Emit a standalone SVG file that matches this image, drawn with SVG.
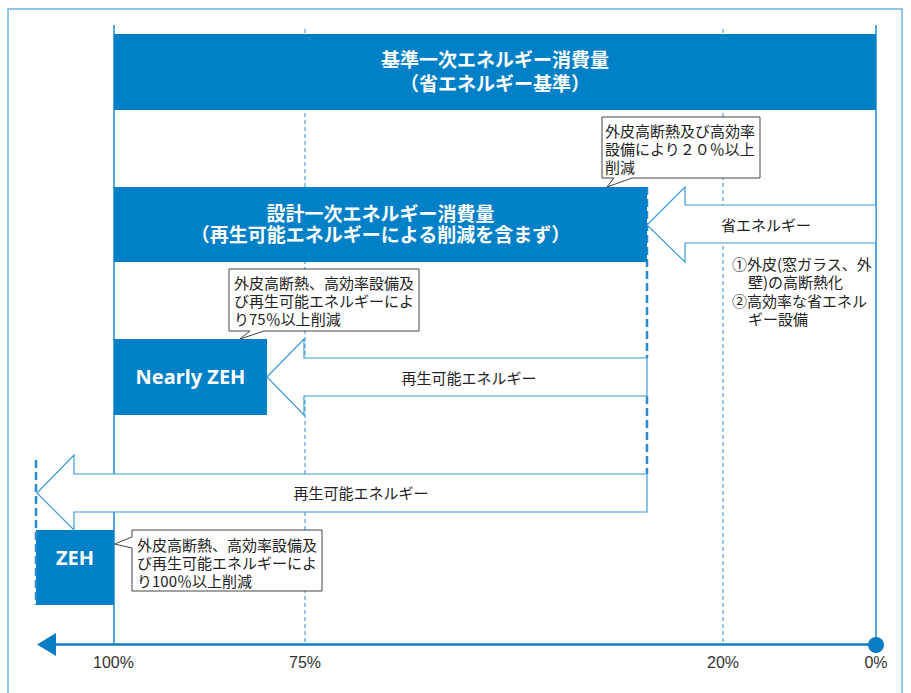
<svg xmlns="http://www.w3.org/2000/svg" width="911" height="693" viewBox="0 0 911 693">
<style>
.jp{font-family:"Noto Sans CJK JP","Noto Sans",sans-serif}
.wt{fill:#ffffff;font-weight:bold;font-size:19px;text-anchor:middle}
.lat{font-family:"Noto Sans","Liberation Sans",sans-serif;fill:#ffffff;font-weight:bold;font-size:20px;text-anchor:middle}
.bk{fill:#222222;font-size:15px}
.bar{fill:#0080c6}
.vline{stroke:#1f86cc;stroke-width:1.5;fill:none}
.thin{stroke:#2a8ad0;stroke-width:1;stroke-dasharray:4 3;fill:none}
.thick{stroke:#2a8ad0;stroke-width:2.5;stroke-dasharray:8 4;fill:none}
.arrow{fill:#ffffff;stroke:#3d9ad8;stroke-width:1.2;stroke-linejoin:miter}
.call{fill:#ffffff;stroke:#444444;stroke-width:1}
.ax{font-family:"Liberation Sans",Arial,sans-serif;font-size:16px;fill:#333333;text-anchor:middle}
</style>
<rect x="8" y="9" width="894" height="700" fill="#ffffff" stroke="#6cb4e4" stroke-width="1.5"/>

<g id="connectors">
  <line class="vline" x1="114" y1="25" x2="114" y2="644"/>
  <line class="vline" x1="876" y1="25" x2="876" y2="645"/>
  <line class="thin" x1="305" y1="29" x2="305" y2="644"/>
  <line class="thin" x1="723" y1="29" x2="723" y2="644"/>
  <line class="thick" x1="647" y1="187" x2="647" y2="358"/>
  <line class="thick" x1="647" y1="396" x2="647" y2="474"/>
</g>

<g id="base">
  <rect class="bar" x="114" y="34" width="762" height="76"/>
  <text class="jp wt" x="495" y="67">基準一次エネルギー消費量</text>
  <text class="jp wt" x="495" y="90.5">（省エネルギー基準）</text>
</g>

<g id="design">
  <rect class="bar" x="114" y="187" width="533" height="75"/>
  <text class="jp wt" x="380.5" y="220.5">設計一次エネルギー消費量</text>
  <text class="jp wt" x="380.5" y="242">（再生可能エネルギーによる削減を含まず）</text>
</g>

<g id="nearly-zeh">
  <rect class="bar" x="114" y="339" width="153" height="76"/>
  <text class="lat" x="190.5" y="384">Nearly ZEH</text>
</g>

<g id="zeh">
  <rect class="bar" x="36" y="530" width="78" height="75"/>
  <text class="lat" x="75" y="565">ZEH</text>
</g>

<g id="arrow-shoene">
  <path class="arrow" d="M647,225 L685,187 L685,205 L876,205 L876,243 L685,243 L685,262 Z"/>
  <text class="jp bk" x="766" y="231" text-anchor="middle">省エネルギー</text>
</g>

<g id="arrow-renew1">
  <path class="arrow" d="M267,377 L304,339 L304,358 L647,358 L647,396 L304,396 L304,415 Z"/>
  <text class="jp bk" x="469" y="384" text-anchor="middle">再生可能エネルギー</text>
</g>

<g id="arrow-renew2">
  <path class="arrow" d="M37,493 L74,455 L74,474 L647,474 L647,512 L74,512 L74,530 Z"/>
  <text class="jp bk" x="361" y="499" text-anchor="middle">再生可能エネルギー</text>
</g>

<g id="zeh-edge">
  <line class="thick" x1="36" y1="460" x2="36" y2="605"/>
</g>

<g id="callout-20">
  <path class="call" d="M602,117 H760 V178 H632 L607,187 L614,178 H602 Z"/>
  <text class="jp bk" x="605" y="136.5">外皮高断熱及び高効率</text>
  <text class="jp bk" x="605" y="154.5">設備により２０％以上</text>
  <text class="jp bk" x="605" y="172.5">削減</text>
</g>

<g id="callout-75">
  <path class="call" d="M229,269 H419 V331 H264 L240,339 L250,331 H229 Z"/>
  <text class="jp bk" x="234" y="289">外皮高断熱、高効率設備及</text>
  <text class="jp bk" x="234" y="307">び再生可能エネルギーによ</text>
  <text class="jp bk" x="234" y="325">り75％以上削減</text>
</g>

<g id="callout-100">
  <path class="call" d="M132,530 H322 V591 H132 V548 L114.5,544 L132,537 Z"/>
  <text class="jp bk" x="137" y="551">外皮高断熱、高効率設備及</text>
  <text class="jp bk" x="137" y="569">び再生可能エネルギーによ</text>
  <text class="jp bk" x="137" y="587">り100％以上削減</text>
</g>

<g id="notes">
  <text class="jp bk" x="732" y="269.5">①外皮(窓ガラス、外</text>
  <text class="jp bk" x="748" y="287.5">壁)の高断熱化</text>
  <text class="jp bk" x="732" y="306.5">②高効率な省エネル</text>
  <text class="jp bk" x="748" y="325">ギー設備</text>
</g>

<g id="axis">
  <line x1="52" y1="644.5" x2="876" y2="644.5" stroke="#0a7cc4" stroke-width="2.5"/>
  <polygon points="37,644.5 56,633 56,656" fill="#0a7cc4"/>
  <circle cx="876" cy="645" r="8" fill="#0a7cc4"/>
  <text class="ax" x="113.5" y="668">100%</text>
  <text class="ax" x="305" y="668">75%</text>
  <text class="ax" x="723" y="668">20%</text>
  <text class="ax" x="876" y="668">0%</text>
</g>
</svg>
